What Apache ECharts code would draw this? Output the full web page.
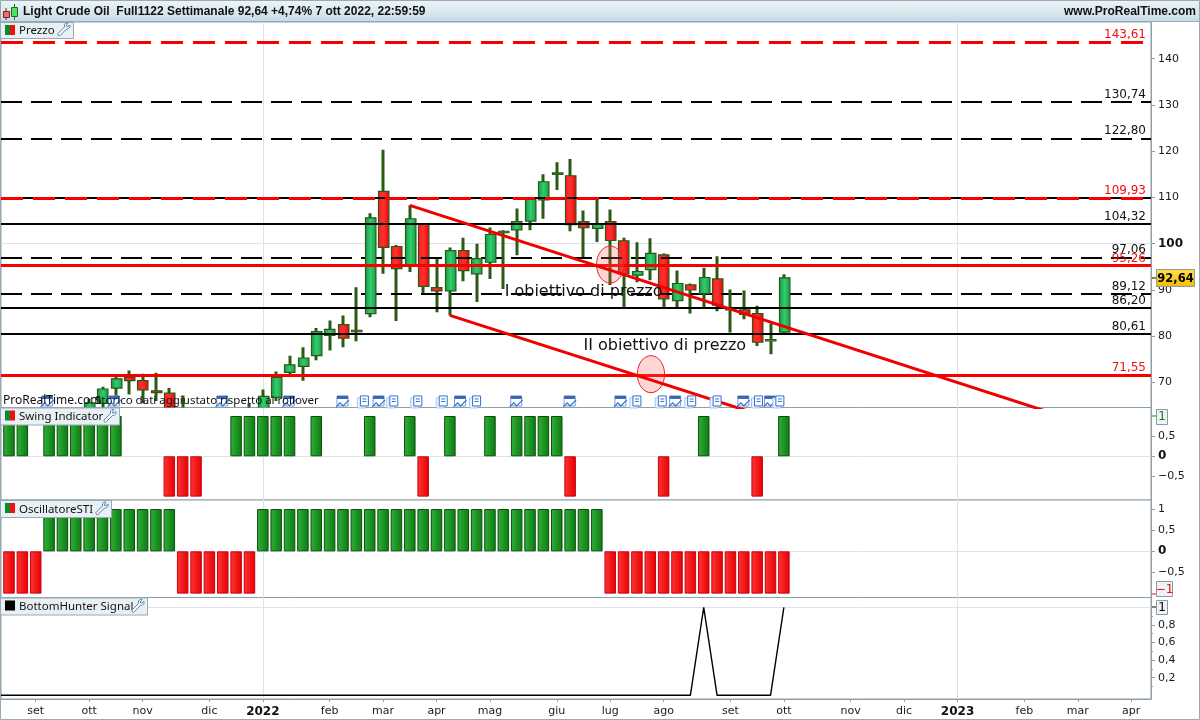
<!DOCTYPE html>
<html>
<head>
<meta charset="utf-8">
<style>
html,body{margin:0;padding:0;background:#fff;}
#chart{width:1200px;height:720px;}
</style>
<script src="https://cdn.jsdelivr.net/npm/echarts@6/dist/echarts.min.js"></script>
</head>
<body>
<div id="chart"></div>
<script>
// week index 0 = first bar on the left, 58 = last bar (7 ott 2022), rest of the axis is empty
// null = candle is below the visible price range
var opens  = [null,null,null,null,null,null,63,65.5,68.8,71.1,70.4,68.2,67.7,60,null,null,null,null,62,63,66.8,72.2,73.5,75.8,80.2,82.5,81.3,84.9,111.3,99.4,95.3,104.3,90.5,89.8,98.5,93.5,96,102.7,103,104.9,109.5,115.3,114.7,104.8,103.3,104.8,100.6,93.2,94.4,97.6,87.7,91.1,89.2,92.4,86,85.7,84.9,79.3,80.9];
var highs  = [null,null,null,null,null,null,66.5,69.1,71.5,72.6,71.9,72.1,68.8,67.2,null,null,null,null,65.5,68.5,72.4,75.8,77.6,81.8,83.4,84.5,90.6,106.6,120.3,99.7,108.3,104.5,96.9,99.2,101.3,100,103.5,102.9,107.6,109.7,115,117.6,118.3,107.2,109.5,107.4,101.3,100.3,101.2,97.9,94.2,91.4,94.8,97.3,90.1,89.9,86.6,82.8,93.4];
var lows   = [null,null,null,null,null,null,62,64,65.5,67.4,65.5,66,62,59,null,null,null,null,61,62,66,71.7,70.4,74.8,76.9,77.6,78.9,84.1,93.5,83.3,93.9,89.2,85.2,84.5,91.9,87.4,92.4,90.2,97.5,102.9,105.4,111.6,102.7,97.1,100.4,91.1,86.3,91.7,92.1,86.3,86.3,84.9,85.9,85.4,80.8,83.7,77.9,76.1,80.6];
var closes = [null,null,null,null,null,null,65.6,68.6,70.8,70.4,68.4,67.8,63.5,62,null,null,null,null,64,67,71.1,73.8,75.3,81,81.5,79.6,81.2,105.6,99.2,94.6,105.4,90.8,89.8,98.5,94.2,96.8,102,102.7,104.8,109.6,113.4,115.3,104.1,103.5,104.3,100.7,93.5,94,97.9,88.1,91.4,90,92.7,86.7,86,84.7,78.7,79.3,92.64];

var swingValues = [1,1,0,1,1,1,1,1,1,0,0,0,-1,-1,-1,0,0,1,1,1,1,1,0,1,0,0,0,1,0,0,1,-1,0,1,0,0,1,0,1,1,1,1,-1,0,0,0,0,0,0,-1,0,0,1,0,0,0,-1,0,1];
var oscValues = [-1,-1,-1,1,1,1,1,1,1,1,1,1,1,-1,-1,-1,-1,-1,-1,1,1,1,1,1,1,1,1,1,1,1,1,1,1,1,1,1,1,1,1,1,1,1,1,1,1,-1,-1,-1,-1,-1,-1,-1,-1,-1,-1,-1,-1,-1,-1];
var hunterValues = [0,0,0,0,0,0,0,0,0,0,0,0,0,0,0,0,0,0,0,0,0,0,0,0,0,0,0,0,0,0,0,0,0,0,0,0,0,0,0,0,0,0,0,0,0,0,0,0,0,0,0,0,1,0,0,0,0,0,1];

var monthIdx = [2,6,10,15,19,24,28,32,36,41,45,49,54,58,63,67,71,76,80,84];
var monthLabels = ['set','ott','nov','dic','2022','feb','mar','apr','mag','giu','lug','ago','set','ott','nov','dic','2023','feb','mar','apr'];
var yearIdx = [19,71];

var dashedRed = [143.61,109.93];
var dashedBlack = [130.74,122.80,97.06,89.12];
var solidBlack = [104.32,86.20,80.61];
var solidRed = [95.26,71.55];

// trend lines: [week, price] start and end
var trendUpper = [[30,108.3],[78.7,62.8]];
var trendLower = [[33,84.5],[56.2,63]];
var ellipses = [[45,95.5],[48.05,71.8]];
var notes = [[37.1,89.6,'I obiettivo di prezzo'],[43,77.9,'II obiettivo di prezzo']];

// icons along the bottom of the price pane, by week index (approx.)
var calendarIcons = [2.9,7.9,16,21,25,27.7,33.8,38,42,45.8,49.9,55,57];
var docIcons = [26.6,28.8,30.6,32.5,35,47,48.9,51.1,53,56.1,57.7];

var GREEN = ['#33b03a','#0a7a12'];
var RED = ['#ff3636','#e60000'];
var X_MIN = -0.5988, X_MAX = 85.479;
var fmt = function (v) { return String(v).replace('.', ',').replace('-', '\u2212'); };
var FONT = 'DejaVu Sans';
var GRIDS = [
    {top:22, height:385.5},
    {top:407.5, height:92.5},
    {top:500, height:97.5},
    {top:597.5, height:101.5}
];

function grad(c) {
    return new echarts.graphic.LinearGradient(0,0,1,0,[{offset:0,color:c[0]},{offset:1,color:c[1]}]);
}

var candleGreen = new echarts.graphic.LinearGradient(0,0,1,0,[{offset:0,color:'#139a4a'},{offset:0.5,color:'#33cc6c'},{offset:1,color:'#0f9a46'}]);
var candleRed = new echarts.graphic.LinearGradient(0,0,1,0,[{offset:0,color:'#ff1c1c'},{offset:0.5,color:'#ff3030'},{offset:1,color:'#e80000'}]);

function renderCandle(params, api) {
    var i = api.value(0);
    var o = api.coord([i, api.value(1)]);
    var c = api.coord([i, api.value(4)]);
    var hi = api.coord([i, api.value(2)]);
    var lo = api.coord([i, api.value(3)]);
    var w = api.size([1,0])[0] * 0.78;
    var up = api.value(4) >= api.value(1);
    var top = Math.min(o[1], c[1]);
    var h = Math.max(Math.abs(o[1]-c[1]), 1.5);
    var x = Math.round(o[0]-w/2);
    return {
        type:'group',
        children:[
            {type:'rect', shape:{x:Math.round(o[0])-1.5, y:hi[1], width:3, height:lo[1]-hi[1]}, style:{fill:'#2a5a14'}},
            {type:'rect', shape:{x:x+0.5, y:top, width:w, height:h}, style:{fill:up?candleGreen:candleRed, stroke:'#2a5a14', lineWidth:1.2}}
        ]
    };
}

function candleSeries(up, z) {
    var d = [];
    opens.forEach(function (o, i) {
        if (o == null) return;
        if ((closes[i] >= o) === up) d.push([i, o, highs[i], lows[i], closes[i]]);
    });
    return {type:'custom', xAxisIndex:0, yAxisIndex:0, z:z, silent:true, clip:true, data:d, encode:{x:0, y:[1,2,3,4]}, renderItem:renderCandle};
}

function barData(vals) {
    var out = [];
    vals.forEach(function (v, i) {
        if (!v) return;
        out.push({value:[i,v], itemStyle:{color:grad(v>0?GREEN:RED), borderColor:v>0?'#0b4f0b':'#c80010', borderWidth:1}});
    });
    return out;
}

function levelSeries(vals, color, type, width, labelColor, z) {
    return {
        type:'line', xAxisIndex:0, yAxisIndex:0, data:[], silent:true, z:z,
        markLine:{
            z:z, silent:true, symbol:'none', animation:false,
            lineStyle:{color:color, type:type, width:width},
            label:{show:labelColor!=null, position:'insideEndTop', distance:[5,1], color:labelColor, fontFamily:FONT, fontSize:12,
                formatter:function (p) { return p.value.toFixed(2).replace('.',','); }},
            data:vals.map(function (v) { return {yAxis:v}; })
        }
    };
}

function guideSeries(xi, yi, yVals, xVals) {
    var d = [];
    yVals.forEach(function (v) { d.push({yAxis:v}); });
    xVals.forEach(function (v) { d.push({xAxis:v}); });
    return {
        type:'line', xAxisIndex:xi, yAxisIndex:yi, data:[], silent:true, z:1,
        markLine:{z:1, silent:true, symbol:'none', animation:false, label:{show:false},
            lineStyle:{color:'#e0e0e6', type:'solid', width:1}, data:d}
    };
}

function trendSeries(pts) {
    return {type:'line', xAxisIndex:0, yAxisIndex:0, data:pts, symbol:'none', silent:true, z:8, lineStyle:{color:'#f00000', width:3}};
}

function tagSeries(xi, yi, week, val, txt, color, bold, w, h, shift) {
    return {
        type:'custom', xAxisIndex:xi, yAxisIndex:yi, data:[[week,val]], clip:false, silent:true, z:20,
        renderItem:function (params, api) {
            var p = api.coord([api.value(0), api.value(1)]);
            var right = 1151;
            return {type:'group', children:[
                {type:'rect', shape:{x:right+1, y:Math.round(p[1])-0.5, width:5, height:1}, style:{fill:color}},
                {type:'rect', shape:{x:right+5.5, y:Math.round(p[1]+shift-h/2)+0.5, width:w, height:h},
                    style:bold ? {fill:new echarts.graphic.LinearGradient(0,0,0,1,[{offset:0,color:'#ffe14d'},{offset:1,color:'#f4bc00'}]), stroke:'#8d9aa3', lineWidth:1}
                               : {fill:'#eef2f4', stroke:'#8d9aa3', lineWidth:1}},
                {type:'text', style:{x:right+5.5+w/2, y:Math.round(p[1]+shift)+1, text:txt, fill:bold?'#000':color, align:'center', verticalAlign:'middle',
                    font:(bold?'bold 11.5px ':'12px ')+'"'+FONT+'"'}}
            ]};
        }
    };
}

function paneAxisY(i, min, max, labels, ticks) {
    return {
        type:'value', gridIndex:i, position:'right', min:min, max:max, scale:false,
        splitLine:{show:false},
        axisLine:{show:true, onZero:false, lineStyle:{color:'#8f9ea8'}},
        axisTick:{show:true, length:4, lineStyle:{color:'#8f9ea8'}, customValues:ticks},
        axisLabel:{show:true, margin:7, color:'#1a1a1a', fontFamily:FONT, fontSize:11, customValues:labels,
            showMinLabel:true, showMaxLabel:true,
            formatter:function (v) {
                if (v===100 || v===0) return '{b|'+v+'}';
                return fmt(v);
            },
            rich:{b:{fontWeight:'bold', fontSize:12, color:'#111', fontFamily:FONT}}}
    };
}

function paneAxisX(i, visible) {
    var ax = {type:'value', gridIndex:i, min:X_MIN, max:X_MAX, splitLine:{show:false}, show:visible};
    if (visible) {
        ax.axisLine = {show:true, onZero:false, lineStyle:{color:'#8f9ea8'}};
        ax.axisTick = {show:true, length:3, lineStyle:{color:'#8f9ea8'}, customValues:monthIdx};
        ax.axisLabel = {show:true, margin:7, color:'#1a1a1a', fontFamily:FONT, fontSize:11, customValues:monthIdx,
            formatter:function (v) {
                var k = monthIdx.indexOf(v);
                if (k<0) return '';
                return yearIdx.indexOf(v)>=0 ? '{y|'+monthLabels[k]+'}' : monthLabels[k];
            },
            rich:{y:{fontWeight:'bold', fontSize:12, color:'#111', fontFamily:FONT}}};
    }
    return ax;
}

// wrench outline, 13x13 box
var wrench = [[9,0],[7.5,1.5],[7.5,4],[1,10.5],[1,12],[2.5,13],[9.5,6],[11,6],[13,4],[13,2],[11,3.5],[9.5,3.5],[9.5,2],[11,0]];

// graphic elements do not inherit z from a group, so it is set on each child
function atZ(z, kids) {
    kids.forEach(function (k) { k.z = z; });
    return {type:'group', children:kids};
}

function paneTag(top, width, height, title, black) {
    var ox = width-16, oy = top+Math.round(height/2)-7;
    var kids = [
        {type:'rect', shape:{x:0.5, y:top+0.5, width:width, height:height}, style:{fill:'#e9f0f4', stroke:'#9aaab4', lineWidth:1}},
        {type:'text', style:{x:19, y:top+height/2+1, text:title, fill:'#111', font:'11.5px "Noto Sans"', verticalAlign:'middle'}},
        {type:'polygon', shape:{points:wrench.map(function (p) { return [p[0]+ox, p[1]+oy]; })},
            style:{fill:'rgba(255,255,255,0.6)', stroke:'#5f88ad', lineWidth:1}}
    ];
    if (black) {
        kids.push({type:'rect', shape:{x:5, y:top+3, width:10, height:10}, style:{fill:'#000'}});
    } else {
        kids.push({type:'rect', shape:{x:5, y:top+3, width:5, height:10}, style:{fill:'#0a8a28'}});
        kids.push({type:'rect', shape:{x:10, y:top+3, width:5, height:10}, style:{fill:'#f01010'}});
    }
    return atZ(30, kids);
}

var chart = echarts.init(document.getElementById('chart'), null, {renderer:'canvas'});

var option = {
    animation:false,
    backgroundColor:'#fff',
    grid:GRIDS.map(function (g) {
        return {left:1, width:1150, top:g.top, height:g.height, show:true, borderColor:'#8f9ea8', borderWidth:1, backgroundColor:'#fff'};
    }),
    xAxis:[paneAxisX(0,false), paneAxisX(1,false), paneAxisX(2,false), paneAxisX(3,true)],
    yAxis:[
        paneAxisY(0, 64.6, 147.93, [70,80,90,100,110,120,130,140], [70,80,90,100,110,120,130,140]),
        paneAxisY(1, -1.084, 1.211, [-0.5,0,0.5], [-0.5,0,0.5]),
        paneAxisY(2, -1.092, 1.214, [-0.5,0,0.5,1], [-0.5,0,0.5,1]),
        paneAxisY(3, -0.042, 1.111, [0.2,0.4,0.6,0.8], [0.2,0.4,0.6,0.8]),
        {type:'value', gridIndex:3, position:'right', min:-0.042, max:1.111, splitLine:{show:false}, axisLabel:{show:false},
            axisLine:{show:false, onZero:false}, axisTick:{show:true, length:2, lineStyle:{color:'#8f9ea8'}, customValues:[0.1,0.3,0.5,0.7,0.9]}}
    ],
    graphic:[
        {type:'rect', z:25, shape:{x:0, y:0, width:1200, height:22},
            style:{fill:new echarts.graphic.LinearGradient(0,0,0,1,[{offset:0,color:'#eef5f8'},{offset:1,color:'#c6dbe6'}])}},
        {type:'rect', z:26, shape:{x:0, y:21, width:1200, height:1}, style:{fill:'#9aaab4'}},
        {type:'rect', z:26, shape:{x:0.5, y:0.5, width:1199, height:719}, style:{fill:'none', stroke:'#9aaab4', lineWidth:1}},
        // candle logo in the title bar
        atZ(27, [
            {type:'rect', shape:{x:5.5, y:8, width:1, height:12}, style:{fill:'#7a2020'}},
            {type:'rect', shape:{x:3.5, y:11.5, width:6, height:6}, style:{fill:'#f47070', stroke:'#7a2020', lineWidth:1}},
            {type:'rect', shape:{x:14, y:4, width:1, height:16}, style:{fill:'#1f6a1f'}},
            {type:'rect', shape:{x:11.5, y:7.5, width:6, height:9}, style:{fill:'#55e065', stroke:'#1f6a1f', lineWidth:1}}
        ]),
        {type:'text', z:27, style:{x:23, y:12, text:'Light Crude Oil  Full1122 Settimanale 92,64 +4,74% 7 ott 2022, 22:59:59', fill:'#111', font:'bold 12px "Liberation Sans"', verticalAlign:'middle'}},
        {type:'text', z:27, style:{x:1196, y:12, text:'www.ProRealTime.com', fill:'#111', font:'bold 12px "Liberation Sans"', verticalAlign:'middle', align:'right'}},
        paneTag(22,73,16,'Prezzo',false),
        paneTag(407.5,119,17,'Swing Indicator',false),
        paneTag(500,111,17,'OscillatoreSTI',false),
        paneTag(597.5,147,17,'BottomHunter Signal',true),
        {type:'text', z:15, style:{x:3, y:401, text:'ProRealTime.com', fill:'#111', font:'12px "Noto Sans"', verticalAlign:'middle'}},
        {type:'text', z:15, style:{x:95, y:401, text:'Storico dati aggiustato rispetto ai rollover', fill:'#111', font:'11.5px "Noto Sans"', verticalAlign:'middle'}}
    ],
    series:[
        guideSeries(0,0,[100],[19,71]),
        guideSeries(1,1,[0],[19,71]),
        guideSeries(2,2,[0],[19,71]),
        guideSeries(3,3,[1],[19,71]),
        // the dashed black levels pass over red candles but behind green ones
        candleSeries(false,4),
        levelSeries(dashedBlack,'#000',[21,9],2,'#111',5),
        candleSeries(true,6),
        levelSeries([109.93],'#000','solid',2,null,7),
        levelSeries(solidBlack,'#000','solid',2,'#111',7),
        levelSeries(solidRed,'#f80000','solid',3,'#f01010',7),
        levelSeries(dashedRed,'#f80000',[22,10],3,'#f01010',7),
        trendSeries(trendUpper),
        trendSeries(trendLower),
        {
            type:'custom', xAxisIndex:0, yAxisIndex:0, z:7, silent:true, data:ellipses,
            renderItem:function (params, api) {
                var c = api.coord([api.value(0), api.value(1)]);
                var s = api.size([1,4]);
                return {type:'ellipse', shape:{cx:c[0], cy:c[1], rx:s[0]*1.02, ry:s[1]*1.0},
                    style:{fill:'rgba(250,90,90,0.25)', stroke:'#f02020', lineWidth:1}};
            }
        },
        {
            type:'custom', xAxisIndex:0, yAxisIndex:0, z:9, silent:true, data:notes.map(function (n) { return [n[0],n[1]]; }),
            renderItem:function (params, api) {
                var c = api.coord([api.value(0), api.value(1)]);
                return {type:'text', style:{x:c[0], y:c[1], text:notes[params.dataIndex][2], fill:'#111', font:'16px "'+FONT+'"', verticalAlign:'middle'}};
            }
        },
        {
            type:'custom', xAxisIndex:0, yAxisIndex:0, z:9, silent:true, data:calendarIcons.map(function (w) { return [w,65.8]; }),
            renderItem:function (params, api) {
                var c = api.coord([api.value(0), api.value(1)]);
                var x = c[0]-6, y = c[1]-6;
                return {type:'group', children:[
                    {type:'rect', shape:{x:x, y:y, width:11, height:10}, style:{fill:'#fff', stroke:'#7c9cd0', lineWidth:1}},
                    {type:'rect', shape:{x:x, y:y, width:11, height:3}, style:{fill:'#3a66b0'}},
                    {type:'polyline', shape:{points:[[x-1,y+11],[x+3,y+7],[x+6,y+10],[x+12,y+4]]}, style:{fill:'none', stroke:'#2a70e0', lineWidth:1.2}}
                ]};
            }
        },
        {
            type:'custom', xAxisIndex:0, yAxisIndex:0, z:9, silent:true, data:docIcons.map(function (w) { return [w,65.8]; }),
            renderItem:function (params, api) {
                var c = api.coord([api.value(0), api.value(1)]);
                var x = c[0]-5, y = c[1]-6;
                return {type:'group', children:[
                    {type:'rect', shape:{x:x-2, y:y+2, width:8, height:10}, style:{fill:'#eef4ff', stroke:'#a8c4ee', lineWidth:1}},
                    {type:'rect', shape:{x:x+1, y:y, width:8, height:10}, style:{fill:'#fff', stroke:'#2f6fd0', lineWidth:1}},
                    {type:'polyline', shape:{points:[[x+3,y+3],[x+7,y+3]]}, style:{stroke:'#2f6fd0', lineWidth:1}},
                    {type:'polyline', shape:{points:[[x+3,y+5.5],[x+7,y+5.5]]}, style:{stroke:'#2f6fd0', lineWidth:1}}
                ]};
            }
        },
        {type:'bar', xAxisIndex:1, yAxisIndex:1, barWidth:11.5, silent:true, data:barData(swingValues), z:3},
        {type:'bar', xAxisIndex:2, yAxisIndex:2, barWidth:11.5, silent:true, data:barData(oscValues), z:3},
        {
            type:'line', xAxisIndex:3, yAxisIndex:3, symbol:'none', silent:true, z:3,
            lineStyle:{color:'#000', width:1.4},
            data:[[-1,0]].concat(hunterValues.map(function (v, i) { return [i,v]; }))
        },
        tagSeries(0,0,58,92.64,'92,64','#000',true,38,17,0),
        tagSeries(1,1,58,1,'1','#0a8a0a',false,11,15,0),
        tagSeries(2,2,58,-1,'\u22121','#f01010',false,16,15,-5),
        tagSeries(3,3,58,1,'1','#000',false,11,14,0)
    ]
};

chart.setOption(option);
</script>
</body>
</html>
